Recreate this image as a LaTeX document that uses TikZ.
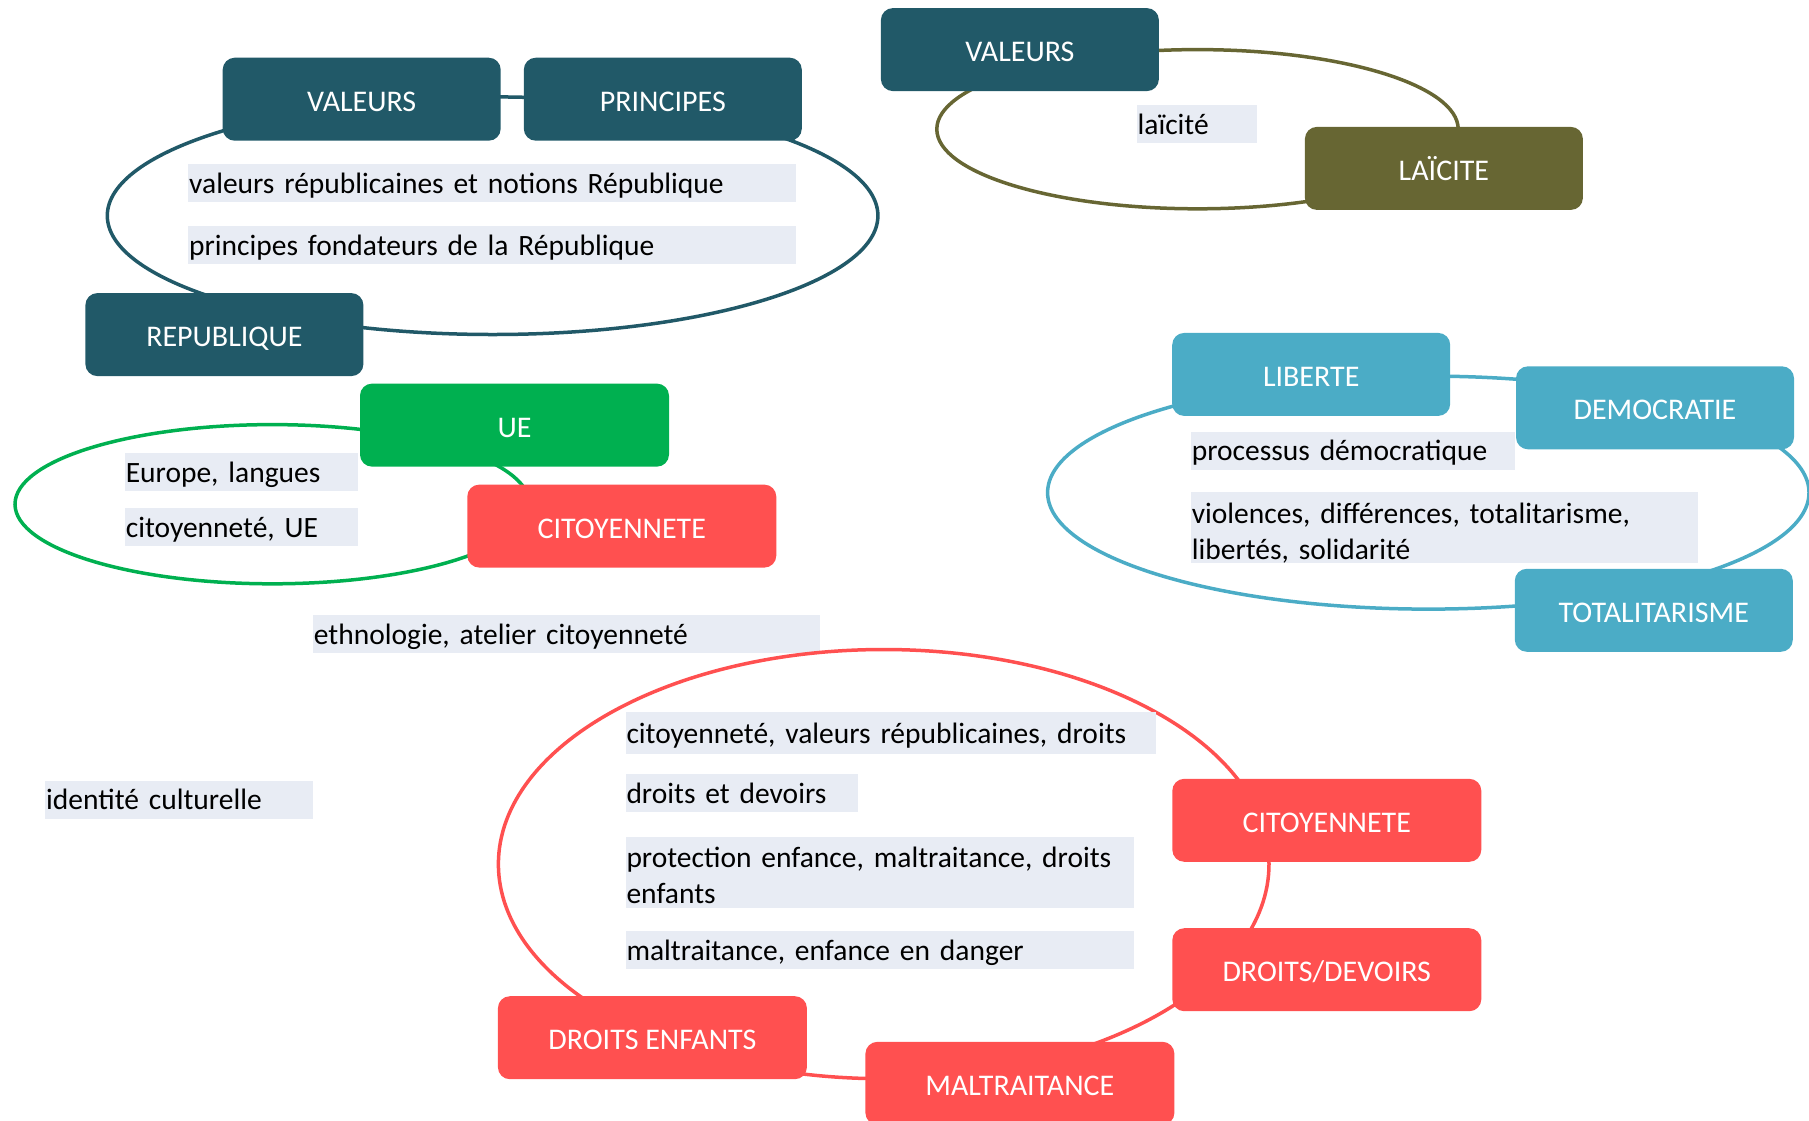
\documentclass[tikz,border=0pt]{standalone}
\usepackage{fontspec}
\setmainfont{Carlito}
\usepackage{tikz}

\definecolor{bleunuit}{HTML}{215968}
\definecolor{kaki}{HTML}{676633}
\definecolor{vert}{HTML}{00B050}
\definecolor{rouge}{HTML}{FF5050}
\definecolor{bleuclair}{HTML}{4BACC6}
\definecolor{fondtxt}{HTML}{E8ECF4}

\begin{document}
\begin{tikzpicture}[x=1pt,y=-1pt,
 boite/.style={rounded corners=12pt,text=white,minimum width=278pt,minimum height=83pt,inner sep=0pt,text height=24pt,text depth=0pt,font=\fontsize{30}{36}\selectfont},
 large/.style={minimum width=309pt},
 notion/.style={fill=fondtxt,anchor=west,inner xsep=1pt,inner ysep=0pt,minimum height=38pt,align=left,text depth=-6pt,font=\fontsize{29.5}{36}\selectfont},
 deuxlignes/.style={minimum height=71pt,text depth=30pt},
 boucle/.style={line width=3.5pt}]
\useasboundingbox (0,0) rectangle (1809,1120);

\begin{scope} %republique
 \draw[boucle,bleunuit] (492.6,215.7) ellipse [x radius=385.3,y radius=118.8];
 \node[boite,fill=bleunuit] (val1) at (361.7,99.2) {VALEURS};
 \node[boite,fill=bleunuit] (pri) at (662.8,99.2) {PRINCIPES};
 \node[boite,fill=bleunuit] (rep) at (224.4,334.6) {REPUBLIQUE};
 \node[notion,text width=606pt] (vrep) at (188,182.9) {valeurs républicaines et notions République};
 \node[notion,text width=606pt] (pfond) at (188,245.2) {principes fondateurs de la République};
\end{scope}

\begin{scope} %laicite
 \draw[boucle,kaki] (1197.5,129.2) ellipse [x radius=260.7,y radius=79.6];
 \node[boite,fill=bleunuit] (val2) at (1019.9,49.6) {VALEURS};
 \node[boite,fill=kaki] (lai) at (1443.9,168.4) {LAÏCITE};
 \node[notion,text width=118pt] (tlai) at (1136.4,124) {laïcité};
\end{scope}

\begin{scope} %UE
 \draw[boucle,vert] (272.3,504.2) ellipse [x radius=257.3,y radius=79.6];
 \node[boite,large,fill=vert] (ue) at (514.5,425.1) {UE};
 \node[boite,large,fill=rouge] (cit1) at (621.8,526.1) {CITOYENNETE};
 \node[notion,text width=231pt] (eur) at (124.6,471.9) {Europe, langues};
 \node[notion,text width=231pt] (cue) at (124.6,527.2) {citoyenneté, UE};
\end{scope}

\node[notion,text width=505pt] (ethno) at (312.7,634) {ethnologie, atelier citoyenneté};
\node[notion,text width=266pt] (ident) at (45,799.5) {identité culturelle};

\begin{scope} %democratie
 \draw[boucle,bleuclair] (1428.3,492.6) ellipse [x radius=380.7,y radius=116.5];
 \node[boite,fill=bleuclair] (lib) at (1311.2,374.4) {LIBERTE};
 \node[boite,fill=bleuclair] (dem) at (1655,407.8) {DEMOCRATIE};
 \node[boite,fill=bleuclair] (tot) at (1653.8,610.3) {TOTALITARISME};
 \node[notion,text width=322pt] (proc) at (1190.6,450.5) {processus démocratique};
 \node[notion,deuxlignes,text width=505pt] (viol) at (1190.6,527.8) {violences, différences, totalitarisme,\\libertés, solidarité};
\end{scope}

\begin{scope} %enfance
 \draw[boucle,rouge] (883.7,864.1) ellipse [x radius=385.3,y radius=214.6];
 \node[boite,large,fill=rouge] (cit2) at (1326.8,820.3) {CITOYENNETE};
 \node[boite,large,fill=rouge] (dd) at (1326.8,969.7) {DROITS/DEVOIRS};
 \node[boite,large,fill=rouge] (mal) at (1019.9,1083.3) {MALTRAITANCE};
 \node[boite,large,fill=rouge] (de) at (652.4,1037.7) {DROITS ENFANTS};
 \node[notion,text width=528pt,minimum height=42pt] (t1) at (625.3,733.2) {citoyenneté, valeurs républicaines, droits};
 \node[notion,text width=230pt] (t2) at (625.3,793.2) {droits et devoirs};
 \node[notion,deuxlignes,text width=506pt] (t3) at (625.3,872.2) {protection enfance, maltraitance, droits\\enfants};
 \node[notion,text width=506pt] (t4) at (625.3,950.1) {maltraitance, enfance en danger};
\end{scope}

\end{tikzpicture}
\end{document}
